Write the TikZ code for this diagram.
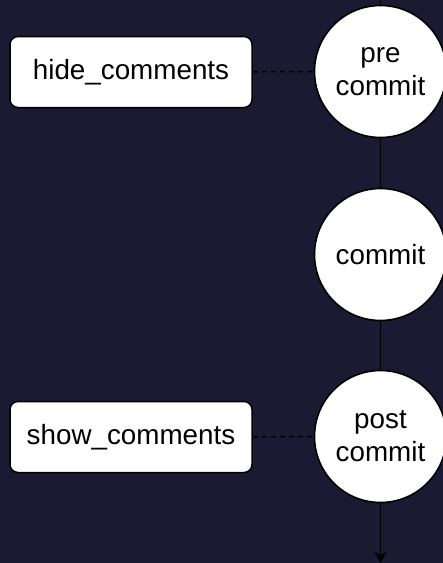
\documentclass[tikz,border=0pt]{standalone}
\usepackage{fontspec}
\setmainfont{Liberation Sans}
\usetikzlibrary{arrows.meta}
\definecolor{bgnavy}{RGB}{27,26,50}
\begin{document}
\begin{tikzpicture}[x=1pt,y=-1pt,
  hookbox/.style={draw=black, line width=1.5pt, fill=white, rounded corners=8pt,
    minimum width=242pt, minimum height=71pt, inner sep=0pt, font=\fontsize{27.8}{32}\selectfont},
  stage/.style={circle, draw=black, line width=1.6pt, fill=white, minimum size=132pt,
    inner sep=0pt, align=center, font=\fontsize{27.8}{33}\selectfont},
  flow/.style={draw=black, line width=1.8pt},
  link/.style={draw=black, line width=1.5pt, dash pattern=on 5pt off 4pt}]
\fill[bgnavy] (0,0) rectangle (443,563);
\useasboundingbox (0,0) rectangle (443,563);
\coordinate (top) at (380.5,0);
\coordinate (bottom) at (380.5,563);
\node[stage] (pre) at (380.5,71.5) {pre\\commit};
\node[stage] (com) at (380.5,254.5) {commit};
\node[stage] (post) at (380.5,436.5) {post\\commit};
\node[hookbox] (hide) at (131,72) {hide\_comments};
\node[hookbox] (show) at (131,437) {show\_comments};
\draw[flow] (top) -- (pre);
\draw[flow] (pre) -- (com);
\draw[flow] (com) -- (post);
\draw[flow, -{Stealth[length=11pt,width=12pt,inset=3pt]}] (post) -- (bottom);
\draw[link] (hide) -- (pre);
\draw[link] (show) -- (post);
\end{tikzpicture}
\end{document}
